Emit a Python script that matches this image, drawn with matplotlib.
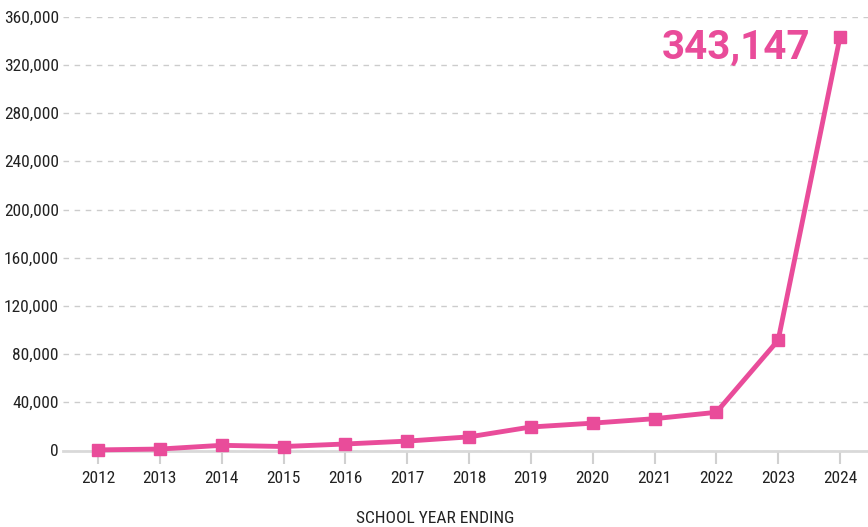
import matplotlib
matplotlib.use("Agg")
import matplotlib.pyplot as plt
from matplotlib import font_manager as fm
from matplotlib.ticker import FuncFormatter

years = [2012, 2013, 2014, 2015, 2016, 2017, 2018, 2019, 2020, 2021, 2022, 2023, 2024]
values = [500, 1200, 4300, 3300, 5400, 7800, 11300, 19500, 22700, 26400, 31700, 91500, 343147]
y_ticks = [0, 40000, 80000, 120000, 160000, 200000, 240000, 280000, 320000, 360000]
x_label = "SCHOOL YEAR ENDING"
callout = "343,147"

PINK = "#E94C9A"

names = sorted({f.name for f in fm.fontManager.ttflist})
cond = None
for pref in ["Roboto Condensed", "Liberation Sans Narrow", "Open Sans Condensed", "Noto Sans Condensed"]:
    if pref in names:
        cond = pref
        break
if cond is None:
    for n in names:
        if "Condensed" in n or "Narrow" in n:
            cond = n
            break
if cond is None:
    cond = "Roboto" if "Roboto" in names else "DejaVu Sans"
    fs = 11.5
else:
    fs = 12.5
plt.rcParams['font.family'] = [cond, 'DejaVu Sans']

W, H = 868, 527
fig = plt.figure(figsize=(W / 100, H / 100), dpi=100)
left_px, right_px, top_px, bottom_px = 63, 868, 16.7, 450.5
ax = fig.add_axes([left_px / W, 1 - bottom_px / H, (right_px - left_px) / W, (bottom_px - top_px) / H])

ppy = (840 - 98) / 12.0
ax.set_xlim(2012 - (98 - left_px) / ppy, 2024 + (right_px - 840) / ppy)
ax.set_ylim(0, 360000)

ax.plot(years, values, color=PINK, lw=3.5, marker='s', ms=8.3, mfc=PINK, mec=PINK,
        clip_on=False, zorder=5, solid_joinstyle='miter')

ax.set_yticks(y_ticks)
ax.yaxis.set_major_formatter(FuncFormatter(lambda v, p: f"{int(v):,}"))
ax.set_xticks(years)
ax.set_xticklabels([str(y) for y in years])

for s in ['top', 'right', 'left']:
    ax.spines[s].set_visible(False)
ax.spines['bottom'].set_color('#d9d9d9')
ax.spines['bottom'].set_linewidth(2)
ax.spines['bottom'].set_zorder(1)

ax.grid(axis='y', color='#cccccc', linestyle=(0, (4, 4)), linewidth=1)
ax.set_axisbelow(True)
ax.tick_params(axis='y', length=0, pad=3, labelsize=fs, labelcolor='#222222')
ax.tick_params(axis='x', length=9, width=1.5, color='#d0d0d0', pad=6, labelsize=fs, labelcolor='#222222')

fig.text(435.5 / W, 1 - 518.5 / H, x_label, ha='center', va='center',
         fontsize=fs, color='#222222')

ax.annotate(callout, xy=(2024, 343147), xytext=(-21.5, -7.5), textcoords='offset points',
            ha='right', va='center', fontsize=29, fontweight='bold', color=PINK,
            family=['Roboto', 'DejaVu Sans'])

fig.savefig("out.png", dpi=100)
